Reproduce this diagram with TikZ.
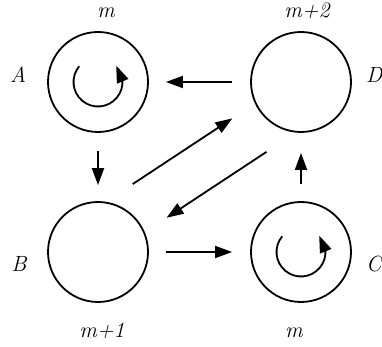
\documentclass[tikz,border=0pt]{standalone}
\usetikzlibrary{arrows.meta,bending}
\begin{document}
\begin{tikzpicture}[x=1pt,y=1pt,
  state/.style={circle,draw,line width=1.8pt,minimum size=100pt,inner sep=0pt},
  conn/.style={line width=1.8pt,-{Triangle[length=17pt,width=12pt]}},
  loopc/.style={line width=1.8pt,-{Triangle[length=17pt,width=12pt,flex]}},
  lbl/.style={font=\fontsize{22}{26}\selectfont\itshape,inner sep=0pt}]
\useasboundingbox (0,0) rectangle (382,347);
\node[state] (A) at (98,265) {};
\node[state] (D) at (301,265) {};
\node[state] (B) at (98,95) {};
\node[state] (C) at (301,95) {};
% self loops
\draw[loopc] ([shift={(140:24.5)}]A.center) arc[start angle=140,end angle=402,radius=24.5];
\draw[loopc] ([shift={(140:24.5)}]C.center) arc[start angle=140,end angle=402,radius=24.5];
% connectors
\draw[conn,shorten <=18pt,shorten >=17pt] (D) -- (A);
\draw[conn,shorten <=18pt,shorten >=16pt] (A) -- (B);
\draw[conn,shorten <=17pt,shorten >=18pt] (B) -- (C);
\draw[conn,shorten <=17pt,shorten >=20pt] (C) -- (D);
\draw[conn,shorten <=32pt,shorten >=27pt] (B.81) -- (D.205);
\draw[conn,shorten <=35pt,shorten >=26pt] (D.264) -- (B.23);
% labels
\node[lbl,anchor=base] (lA) at (18,264) {A};
\node[lbl,anchor=base] (lB) at (19,75) {B};
\node[lbl,anchor=base west] (lD) at (366,264) {D};
\node[lbl,anchor=base west] (lC) at (366,75) {C};
\node[lbl,anchor=base] (tA) at (106,329) {m};
\node[lbl,anchor=base] (tD) at (307,329) {m+2};
\node[lbl,anchor=base] (bB) at (102,9) {m+1};
\node[lbl,anchor=base] (bC) at (294,9) {m};
\end{tikzpicture}
\end{document}
